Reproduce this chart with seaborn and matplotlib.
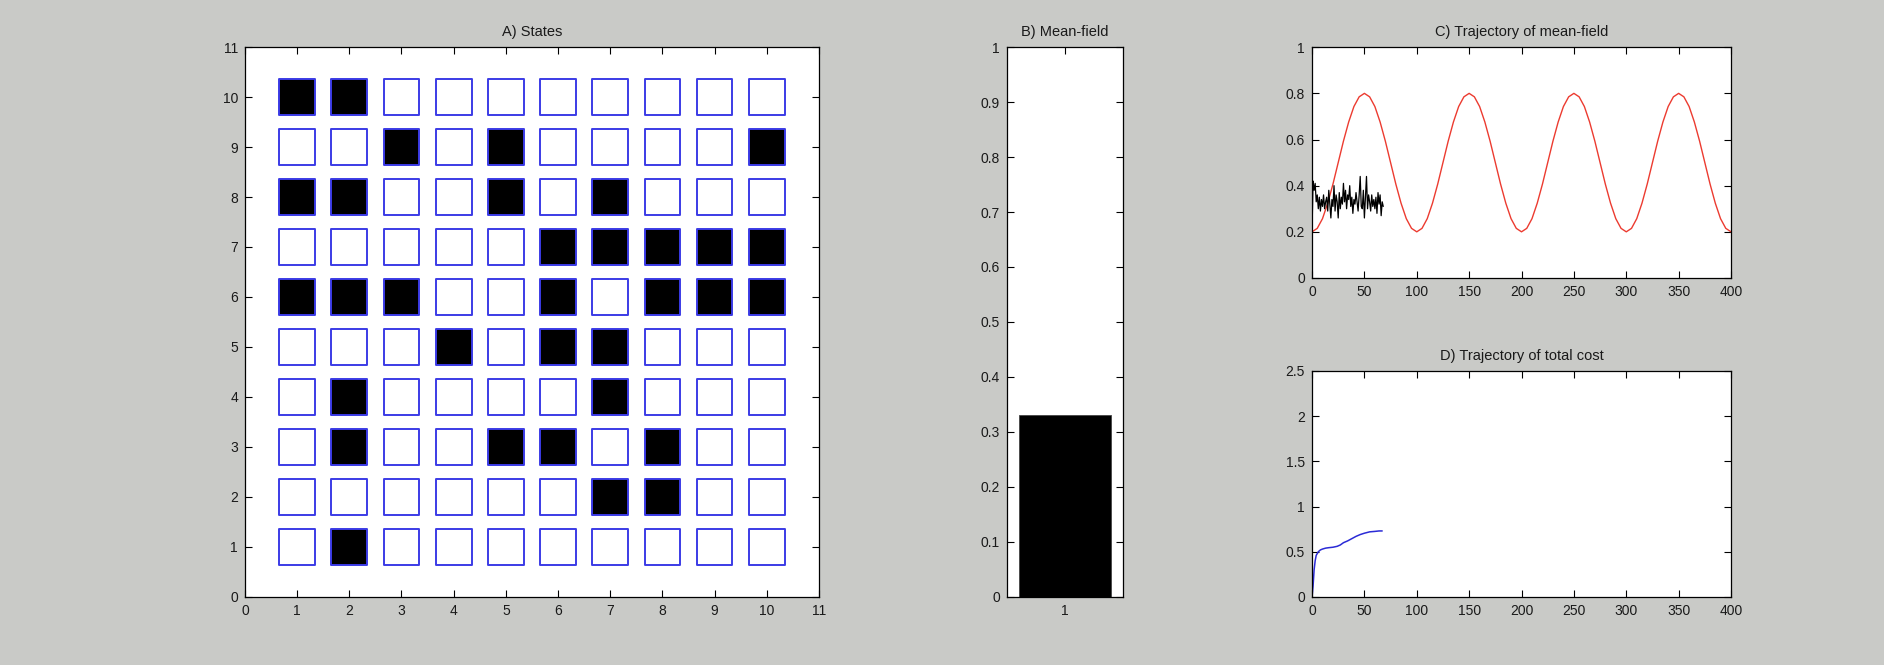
import numpy as np
import pandas as pd
import matplotlib
matplotlib.use("Agg")
import matplotlib.pyplot as plt
from matplotlib.ticker import FormatStrFormatter
import seaborn as sns

# ---------------- data ----------------
grid_rows = [10, 9, 8, 7, 6, 5, 4, 3, 2, 1]
grid_cols = [1, 2, 3, 4, 5, 6, 7, 8, 9, 10]
grid_states = [
    [1, 1, 0, 0, 0, 0, 0, 0, 0, 0],  # y=10
    [0, 0, 1, 0, 1, 0, 0, 0, 0, 1],  # y=9
    [1, 1, 0, 0, 1, 0, 1, 0, 0, 0],  # y=8
    [0, 0, 0, 0, 0, 1, 1, 1, 1, 1],  # y=7
    [1, 1, 1, 0, 0, 1, 0, 1, 1, 1],  # y=6
    [0, 0, 0, 1, 0, 1, 1, 0, 0, 0],  # y=5
    [0, 1, 0, 0, 0, 0, 1, 0, 0, 0],  # y=4
    [0, 1, 0, 0, 1, 1, 0, 1, 0, 0],  # y=3
    [0, 0, 0, 0, 0, 0, 1, 1, 0, 0],  # y=2
    [0, 1, 0, 0, 0, 0, 0, 0, 0, 0],  # y=1
]

bar_labels = ["1"]
bar_values = [0.33]

target_t = list(range(0, 401, 5))
target_v = [0.200, 0.215, 0.257, 0.324, 0.407, 0.500, 0.593, 0.676, 0.743, 0.785,
            0.800, 0.785, 0.743, 0.676, 0.593, 0.500, 0.407, 0.324, 0.257, 0.215,
            0.200, 0.215, 0.257, 0.324, 0.407, 0.500, 0.593, 0.676, 0.743, 0.785,
            0.800, 0.785, 0.743, 0.676, 0.593, 0.500, 0.407, 0.324, 0.257, 0.215,
            0.200, 0.215, 0.257, 0.324, 0.407, 0.500, 0.593, 0.676, 0.743, 0.785,
            0.800, 0.785, 0.743, 0.676, 0.593, 0.500, 0.407, 0.324, 0.257, 0.215,
            0.200, 0.215, 0.257, 0.324, 0.407, 0.500, 0.593, 0.676, 0.743, 0.785,
            0.800, 0.785, 0.743, 0.676, 0.593, 0.500, 0.407, 0.324, 0.257, 0.215,
            0.200]

mf_values = [0.20, 0.42, 0.38, 0.41, 0.33, 0.36, 0.30, 0.35, 0.29, 0.34,
             0.31, 0.36, 0.30, 0.33, 0.35, 0.29, 0.38, 0.32, 0.26, 0.34,
             0.31, 0.40, 0.29, 0.36, 0.33, 0.26, 0.37, 0.30, 0.35, 0.32,
             0.41, 0.33, 0.38, 0.30, 0.36, 0.34, 0.40, 0.31, 0.35, 0.28,
             0.34, 0.32, 0.37, 0.33, 0.29, 0.36, 0.44, 0.31, 0.30, 0.38,
             0.26, 0.35, 0.44, 0.30, 0.36, 0.33, 0.29, 0.36, 0.31, 0.34,
             0.30, 0.35, 0.28, 0.37, 0.32, 0.36, 0.27, 0.33, 0.31]
mf_t = list(range(len(mf_values)))

cost_t = [0, 1, 2, 3, 4, 5, 6, 8, 10, 13, 16, 20, 24, 27, 30, 34, 38, 42, 46, 50, 55, 60, 64, 67]
cost_v = [0.0, 0.12, 0.30, 0.40, 0.46, 0.48, 0.50, 0.52, 0.53, 0.54, 0.545, 0.55, 0.56, 0.575,
          0.60, 0.62, 0.645, 0.67, 0.69, 0.705, 0.72, 0.725, 0.73, 0.73]

# ---------------- style ----------------
sns.set_style("ticks")
plt.rcParams['font.family'] = ['Liberation Sans', 'DejaVu Sans']
plt.rcParams['font.size'] = 10

bg = '#c9cac7'
fig = plt.figure(figsize=(18.84, 6.65), dpi=100, facecolor=bg)
TICK_FS = 10
TITLE_FS = 10.5

def style(ax):
    ax.set_facecolor('white')
    for s in ax.spines.values():
        s.set_visible(True)
        s.set_color('black')
        s.set_linewidth(0.9)
    ax.tick_params(direction='in', top=True, right=True, length=5, width=0.8,
                   labelsize=TICK_FS, colors='black', pad=5)
    ax.tick_params(axis='x', labelcolor='#1a1a1a')
    ax.tick_params(axis='y', labelcolor='#1a1a1a')
    ax.set_xlabel('')
    ax.set_ylabel('')

# ---------------- A) States ----------------
axA = fig.add_axes([0.130, 0.1023, 0.3047, 0.827])
recs = []
for r, row in zip(grid_rows, grid_states):
    for c, st in zip(grid_cols, row):
        recs.append({'col': c, 'row': r, 'state': st})
dfA = pd.DataFrame(recs)
sns.scatterplot(data=dfA, x='col', y='row', hue='state',
                palette={0: 'white', 1: 'black'}, marker='s', s=660,
                edgecolor='#3b3be6', linewidth=1.4, legend=False, ax=axA)
axA.set_xlim(0, 11)
axA.set_ylim(0, 11)
axA.set_xticks(range(0, 12))
axA.set_yticks(range(0, 12))
style(axA)
axA.set_title('A) States', fontsize=TITLE_FS, pad=8, color='#1a1a1a')

# ---------------- B) Mean-field ----------------
axB = fig.add_axes([0.5345, 0.1023, 0.0616, 0.827])
sns.barplot(x=bar_labels, y=bar_values, color='black', width=0.8,
            edgecolor='#444444', linewidth=0.6, saturation=1, ax=axB)
axB.set_xlim(-0.5, 0.5)
axB.set_ylim(0, 1)
axB.set_yticks(np.arange(0, 1.01, 0.1))
axB.yaxis.set_major_formatter(FormatStrFormatter('%g'))
style(axB)
axB.set_title('B) Mean-field', fontsize=TITLE_FS, pad=8, color='#1a1a1a')

# ---------------- C) Trajectory of mean-field ----------------
axC = fig.add_axes([0.6964, 0.582, 0.2224, 0.347])
sns.lineplot(x=target_t, y=target_v, color='#ec3b30', linewidth=1.0,
             estimator=None, sort=False, ax=axC)
sns.lineplot(x=mf_t, y=mf_values, color='black', linewidth=0.9,
             estimator=None, sort=False, ax=axC)
axC.set_xlim(0, 400)
axC.set_ylim(0, 1)
axC.set_xticks(range(0, 401, 50))
axC.set_yticks(np.arange(0, 1.01, 0.2))
axC.yaxis.set_major_formatter(FormatStrFormatter('%g'))
style(axC)
axC.set_title('C) Trajectory of mean-field', fontsize=TITLE_FS, pad=8, color='#1a1a1a')

# ---------------- D) Trajectory of total cost ----------------
axD = fig.add_axes([0.6964, 0.1023, 0.2224, 0.340])
sns.lineplot(x=cost_t, y=cost_v, color='#2b2bd6', linewidth=1.1,
             estimator=None, sort=False, ax=axD)
axD.set_xlim(0, 400)
axD.set_ylim(0, 2.5)
axD.set_xticks(range(0, 401, 50))
axD.set_yticks(np.arange(0, 2.51, 0.5))
axD.yaxis.set_major_formatter(FormatStrFormatter('%g'))
style(axD)
axD.set_title('D) Trajectory of total cost', fontsize=TITLE_FS, pad=8, color='#1a1a1a')

fig.savefig('out.png', dpi=100, facecolor=bg)
